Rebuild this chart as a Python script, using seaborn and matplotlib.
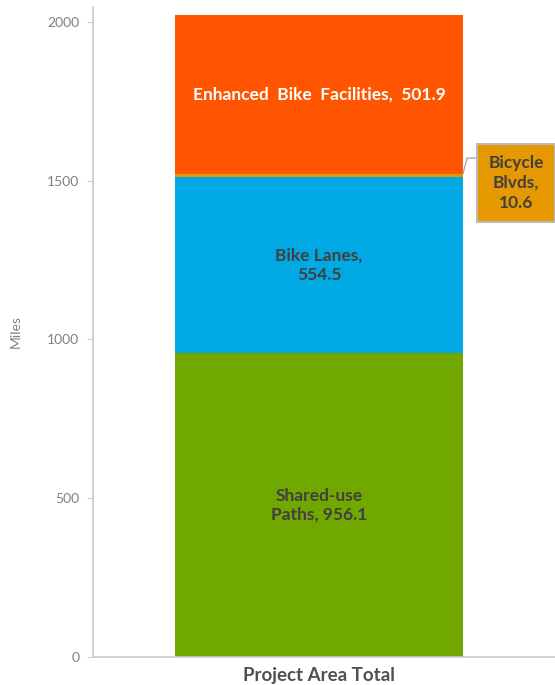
import pandas as pd
import numpy as np
import matplotlib
matplotlib.use('Agg')
import matplotlib.pyplot as plt
import seaborn as sns

# Datos (millas por tipo de facilidad)
categoria = ['Project Area Total']
tipos = ['Shared-use Paths', 'Bike Lanes', 'Bicycle Blvds', 'Enhanced Bike Facilities']
millas = [956.1, 554.5, 10.6, 501.9]
colores = ['#71A800', '#00A8E4', '#E69800', '#FF5500']
etiquetas = ['Shared-use\nPaths, 956.1', 'Bike Lanes,\n554.5', 'Bicycle\nBlvds,\n10.6',
             'Enhanced  Bike  Facilities,  501.9']

sns.set_style('white')
plt.rcParams['font.family'] = ['Lato', 'DejaVu Sans']

fig = plt.figure(figsize=(5.55, 6.85), dpi=100)
ax = fig.add_axes([0.1676, 0.0409, 0.8324, 0.9489])

acum = np.cumsum(millas)
# dibujar de arriba hacia abajo para apilar
for i in range(len(tipos) - 1, -1, -1):
    df = pd.DataFrame({'cat': categoria, 'val': [acum[i]]})
    sns.barplot(data=df, x='cat', y='val', color=colores[i], width=0.8,
                saturation=1, ax=ax, linewidth=0)

ax.set_xlim(-0.6278, 0.6555)
ax.set_ylim(0, 2047)
ax.set_yticks([0, 500, 1000, 1500, 2000])

# etiquetas dentro de la barra
base = np.concatenate([[0], acum[:-1]])
for i in [0, 1]:
    ax.text(0, base[i] + millas[i] / 2, etiquetas[i], ha='center', va='center',
            fontsize=12.5, fontweight='bold', color='#404040', linespacing=1.25)
ax.text(0, base[3] + millas[3] / 2, etiquetas[3], ha='center', va='center',
        fontsize=12.5, fontweight='bold', color='white')

# callout de Bicycle Blvds
ax.plot([0.4, 0.4111, 0.4417], [acum[2], 1571, 1571], color='#AAAAAA', lw=1,
        clip_on=False, solid_joinstyle='miter')
ax.text(0.5472, 1493, etiquetas[2], ha='center', va='center', fontsize=12.5,
        fontweight='bold', color='#404040', linespacing=1.3,
        bbox=dict(boxstyle='square,pad=0.62', fc='#E69800', ec='#BBBBBB', lw=1.5))

sns.despine(ax=ax, top=True, right=True)
for s in ['left', 'bottom']:
    ax.spines[s].set_color('#CCCCCC')
    ax.spines[s].set_linewidth(1.2)
ax.tick_params(axis='y', left=True, length=4, color='#CCCCCC', labelsize=10,
               labelcolor='#808080', pad=6)
ax.tick_params(axis='x', bottom=False, labelsize=13.5, labelcolor='#505050', pad=4)
for t in ax.get_xticklabels():
    t.set_fontweight('bold')
ax.set_xlabel('')
ax.set_ylabel('Miles', fontsize=10, color='#808080', labelpad=18)

plt.savefig('out.png', dpi=100)
